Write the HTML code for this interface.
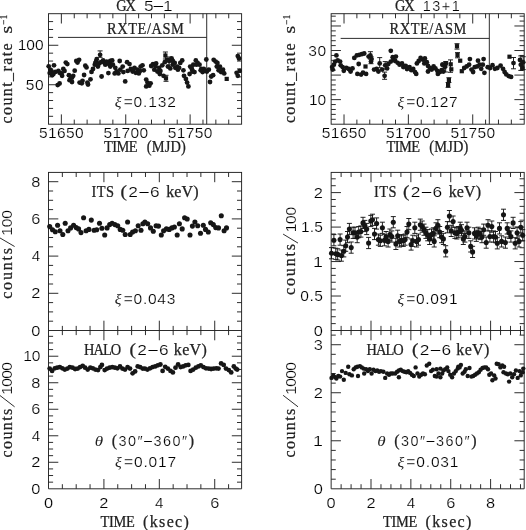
<!DOCTYPE html>
<html><head><meta charset="utf-8"><title>fig</title>
<style>
html,body{margin:0;padding:0;background:#fff;}
svg{display:block;filter:grayscale(1);}

text{fill:#222;}
.f{font-family:"Liberation Serif",serif;stroke:#222;stroke-width:0.25px;}
.m{font-family:"Liberation Sans",sans-serif;}
.d{font-family:"Liberation Sans",sans-serif;stroke:#fff;stroke-width:0.2px;paint-order:fill stroke;fill:#000;}
.d2{font-family:"Liberation Sans",sans-serif;font-size:14.4px;stroke:#fff;stroke-width:0.2px;paint-order:fill stroke;fill:#000;}
.i{font-family:"Liberation Serif",serif;font-style:italic;font-size:15px;stroke:none;}
.l{font-family:"Liberation Serif",serif;stroke:#222;stroke-width:0.25px;}
</style></head><body>
<svg width="526" height="530" viewBox="0 0 526 530">
<rect width="526" height="530" fill="#fff"/>
<g stroke="#222" stroke-width="0.95" fill="none" stroke-linecap="butt">
<rect x="48.5" y="13.7" width="193.10" height="110.50" fill="none"/>
<rect x="331.15" y="13.7" width="193.05" height="110.50" fill="none"/>
<rect x="48.5" y="172.4" width="193.10" height="158.10" fill="none"/>
<rect x="331.15" y="172.4" width="193.05" height="158.10" fill="none"/>
<path d="M48.5 330.5V488.8H241.6V330.5"/>
<path d="M331.15 330.5V488.8H524.2V330.5"/>
<path d="M61.37 124.20L61.37 114.40"/>
<path d="M61.37 13.70L61.37 23.50"/>
<path d="M74.25 124.20L74.25 119.60"/>
<path d="M74.25 13.70L74.25 18.30"/>
<path d="M87.12 124.20L87.12 119.60"/>
<path d="M87.12 13.70L87.12 18.30"/>
<path d="M99.99 124.20L99.99 119.60"/>
<path d="M99.99 13.70L99.99 18.30"/>
<path d="M112.87 124.20L112.87 119.60"/>
<path d="M112.87 13.70L112.87 18.30"/>
<path d="M125.74 124.20L125.74 114.40"/>
<path d="M125.74 13.70L125.74 23.50"/>
<path d="M138.61 124.20L138.61 119.60"/>
<path d="M138.61 13.70L138.61 18.30"/>
<path d="M151.49 124.20L151.49 119.60"/>
<path d="M151.49 13.70L151.49 18.30"/>
<path d="M164.36 124.20L164.36 119.60"/>
<path d="M164.36 13.70L164.36 18.30"/>
<path d="M177.23 124.20L177.23 119.60"/>
<path d="M177.23 13.70L177.23 18.30"/>
<path d="M190.11 124.20L190.11 114.40"/>
<path d="M190.11 13.70L190.11 23.50"/>
<path d="M202.98 124.20L202.98 119.60"/>
<path d="M202.98 13.70L202.98 18.30"/>
<path d="M215.85 124.20L215.85 119.60"/>
<path d="M215.85 13.70L215.85 18.30"/>
<path d="M228.73 124.20L228.73 119.60"/>
<path d="M228.73 13.70L228.73 18.30"/>
<path d="M48.50 116.31L53.10 116.31"/>
<path d="M241.60 116.31L237.00 116.31"/>
<path d="M48.50 108.41L53.10 108.41"/>
<path d="M241.60 108.41L237.00 108.41"/>
<path d="M48.50 100.52L53.10 100.52"/>
<path d="M241.60 100.52L237.00 100.52"/>
<path d="M48.50 92.63L53.10 92.63"/>
<path d="M241.60 92.63L237.00 92.63"/>
<path d="M48.50 84.74L58.30 84.74"/>
<path d="M241.60 84.74L231.80 84.74"/>
<path d="M48.50 76.84L53.10 76.84"/>
<path d="M241.60 76.84L237.00 76.84"/>
<path d="M48.50 68.95L53.10 68.95"/>
<path d="M241.60 68.95L237.00 68.95"/>
<path d="M48.50 61.06L53.10 61.06"/>
<path d="M241.60 61.06L237.00 61.06"/>
<path d="M48.50 53.16L53.10 53.16"/>
<path d="M241.60 53.16L237.00 53.16"/>
<path d="M48.50 45.27L58.30 45.27"/>
<path d="M241.60 45.27L231.80 45.27"/>
<path d="M48.50 37.38L53.10 37.38"/>
<path d="M241.60 37.38L237.00 37.38"/>
<path d="M48.50 29.49L53.10 29.49"/>
<path d="M241.60 29.49L237.00 29.49"/>
<path d="M48.50 21.59L53.10 21.59"/>
<path d="M241.60 21.59L237.00 21.59"/>
<path d="M344.02 124.20L344.02 114.40"/>
<path d="M344.02 13.70L344.02 23.50"/>
<path d="M356.89 124.20L356.89 119.60"/>
<path d="M356.89 13.70L356.89 18.30"/>
<path d="M369.76 124.20L369.76 119.60"/>
<path d="M369.76 13.70L369.76 18.30"/>
<path d="M382.63 124.20L382.63 119.60"/>
<path d="M382.63 13.70L382.63 18.30"/>
<path d="M395.50 124.20L395.50 119.60"/>
<path d="M395.50 13.70L395.50 18.30"/>
<path d="M408.37 124.20L408.37 114.40"/>
<path d="M408.37 13.70L408.37 23.50"/>
<path d="M421.24 124.20L421.24 119.60"/>
<path d="M421.24 13.70L421.24 18.30"/>
<path d="M434.11 124.20L434.11 119.60"/>
<path d="M434.11 13.70L434.11 18.30"/>
<path d="M446.98 124.20L446.98 119.60"/>
<path d="M446.98 13.70L446.98 18.30"/>
<path d="M459.85 124.20L459.85 119.60"/>
<path d="M459.85 13.70L459.85 18.30"/>
<path d="M472.72 124.20L472.72 114.40"/>
<path d="M472.72 13.70L472.72 23.50"/>
<path d="M485.59 124.20L485.59 119.60"/>
<path d="M485.59 13.70L485.59 18.30"/>
<path d="M498.46 124.20L498.46 119.60"/>
<path d="M498.46 13.70L498.46 18.30"/>
<path d="M511.33 124.20L511.33 119.60"/>
<path d="M511.33 13.70L511.33 18.30"/>
<path d="M331.15 119.29L335.75 119.29"/>
<path d="M524.20 119.29L519.60 119.29"/>
<path d="M331.15 114.38L335.75 114.38"/>
<path d="M524.20 114.38L519.60 114.38"/>
<path d="M331.15 109.47L335.75 109.47"/>
<path d="M524.20 109.47L519.60 109.47"/>
<path d="M331.15 104.56L335.75 104.56"/>
<path d="M524.20 104.56L519.60 104.56"/>
<path d="M331.15 99.64L340.95 99.64"/>
<path d="M524.20 99.64L514.40 99.64"/>
<path d="M331.15 94.73L335.75 94.73"/>
<path d="M524.20 94.73L519.60 94.73"/>
<path d="M331.15 89.82L335.75 89.82"/>
<path d="M524.20 89.82L519.60 89.82"/>
<path d="M331.15 84.91L335.75 84.91"/>
<path d="M524.20 84.91L519.60 84.91"/>
<path d="M331.15 80.00L335.75 80.00"/>
<path d="M524.20 80.00L519.60 80.00"/>
<path d="M331.15 75.09L340.95 75.09"/>
<path d="M524.20 75.09L514.40 75.09"/>
<path d="M331.15 70.18L335.75 70.18"/>
<path d="M524.20 70.18L519.60 70.18"/>
<path d="M331.15 65.27L335.75 65.27"/>
<path d="M524.20 65.27L519.60 65.27"/>
<path d="M331.15 60.36L335.75 60.36"/>
<path d="M524.20 60.36L519.60 60.36"/>
<path d="M331.15 55.44L335.75 55.44"/>
<path d="M524.20 55.44L519.60 55.44"/>
<path d="M331.15 50.53L340.95 50.53"/>
<path d="M524.20 50.53L514.40 50.53"/>
<path d="M331.15 45.62L335.75 45.62"/>
<path d="M524.20 45.62L519.60 45.62"/>
<path d="M331.15 40.71L335.75 40.71"/>
<path d="M524.20 40.71L519.60 40.71"/>
<path d="M331.15 35.80L335.75 35.80"/>
<path d="M524.20 35.80L519.60 35.80"/>
<path d="M331.15 30.89L335.75 30.89"/>
<path d="M524.20 30.89L519.60 30.89"/>
<path d="M331.15 25.98L340.95 25.98"/>
<path d="M524.20 25.98L514.40 25.98"/>
<path d="M331.15 21.07L335.75 21.07"/>
<path d="M524.20 21.07L519.60 21.07"/>
<path d="M331.15 16.16L335.75 16.16"/>
<path d="M524.20 16.16L519.60 16.16"/>
<path d="M62.35 330.50L62.35 325.90"/>
<path d="M62.35 172.40L62.35 177.00"/>
<path d="M76.20 330.50L76.20 325.90"/>
<path d="M76.20 172.40L76.20 177.00"/>
<path d="M90.06 330.50L90.06 325.90"/>
<path d="M90.06 172.40L90.06 177.00"/>
<path d="M103.91 330.50L103.91 320.70"/>
<path d="M103.91 172.40L103.91 182.20"/>
<path d="M117.76 330.50L117.76 325.90"/>
<path d="M117.76 172.40L117.76 177.00"/>
<path d="M131.61 330.50L131.61 325.90"/>
<path d="M131.61 172.40L131.61 177.00"/>
<path d="M145.47 330.50L145.47 325.90"/>
<path d="M145.47 172.40L145.47 177.00"/>
<path d="M159.32 330.50L159.32 320.70"/>
<path d="M159.32 172.40L159.32 182.20"/>
<path d="M173.17 330.50L173.17 325.90"/>
<path d="M173.17 172.40L173.17 177.00"/>
<path d="M187.02 330.50L187.02 325.90"/>
<path d="M187.02 172.40L187.02 177.00"/>
<path d="M200.87 330.50L200.87 325.90"/>
<path d="M200.87 172.40L200.87 177.00"/>
<path d="M214.73 330.50L214.73 320.70"/>
<path d="M214.73 172.40L214.73 182.20"/>
<path d="M228.58 330.50L228.58 325.90"/>
<path d="M228.58 172.40L228.58 177.00"/>
<path d="M48.50 321.20L53.10 321.20"/>
<path d="M241.60 321.20L237.00 321.20"/>
<path d="M48.50 311.90L53.10 311.90"/>
<path d="M241.60 311.90L237.00 311.90"/>
<path d="M48.50 302.60L53.10 302.60"/>
<path d="M241.60 302.60L237.00 302.60"/>
<path d="M48.50 293.30L58.30 293.30"/>
<path d="M241.60 293.30L231.80 293.30"/>
<path d="M48.50 284.00L53.10 284.00"/>
<path d="M241.60 284.00L237.00 284.00"/>
<path d="M48.50 274.70L53.10 274.70"/>
<path d="M241.60 274.70L237.00 274.70"/>
<path d="M48.50 265.40L53.10 265.40"/>
<path d="M241.60 265.40L237.00 265.40"/>
<path d="M48.50 256.10L58.30 256.10"/>
<path d="M241.60 256.10L231.80 256.10"/>
<path d="M48.50 246.80L53.10 246.80"/>
<path d="M241.60 246.80L237.00 246.80"/>
<path d="M48.50 237.50L53.10 237.50"/>
<path d="M241.60 237.50L237.00 237.50"/>
<path d="M48.50 228.20L53.10 228.20"/>
<path d="M241.60 228.20L237.00 228.20"/>
<path d="M48.50 218.90L58.30 218.90"/>
<path d="M241.60 218.90L231.80 218.90"/>
<path d="M48.50 209.60L53.10 209.60"/>
<path d="M241.60 209.60L237.00 209.60"/>
<path d="M48.50 200.30L53.10 200.30"/>
<path d="M241.60 200.30L237.00 200.30"/>
<path d="M48.50 191.00L53.10 191.00"/>
<path d="M241.60 191.00L237.00 191.00"/>
<path d="M48.50 181.70L58.30 181.70"/>
<path d="M241.60 181.70L231.80 181.70"/>
<path d="M341.12 330.50L341.12 325.90"/>
<path d="M341.12 172.40L341.12 177.00"/>
<path d="M351.08 330.50L351.08 325.90"/>
<path d="M351.08 172.40L351.08 177.00"/>
<path d="M361.05 330.50L361.05 325.90"/>
<path d="M361.05 172.40L361.05 177.00"/>
<path d="M371.01 330.50L371.01 320.70"/>
<path d="M371.01 172.40L371.01 182.20"/>
<path d="M380.98 330.50L380.98 325.90"/>
<path d="M380.98 172.40L380.98 177.00"/>
<path d="M390.94 330.50L390.94 325.90"/>
<path d="M390.94 172.40L390.94 177.00"/>
<path d="M400.91 330.50L400.91 325.90"/>
<path d="M400.91 172.40L400.91 177.00"/>
<path d="M410.87 330.50L410.87 320.70"/>
<path d="M410.87 172.40L410.87 182.20"/>
<path d="M420.84 330.50L420.84 325.90"/>
<path d="M420.84 172.40L420.84 177.00"/>
<path d="M430.80 330.50L430.80 325.90"/>
<path d="M430.80 172.40L430.80 177.00"/>
<path d="M440.77 330.50L440.77 325.90"/>
<path d="M440.77 172.40L440.77 177.00"/>
<path d="M450.73 330.50L450.73 320.70"/>
<path d="M450.73 172.40L450.73 182.20"/>
<path d="M460.70 330.50L460.70 325.90"/>
<path d="M460.70 172.40L460.70 177.00"/>
<path d="M470.67 330.50L470.67 325.90"/>
<path d="M470.67 172.40L470.67 177.00"/>
<path d="M480.63 330.50L480.63 325.90"/>
<path d="M480.63 172.40L480.63 177.00"/>
<path d="M490.60 330.50L490.60 320.70"/>
<path d="M490.60 172.40L490.60 182.20"/>
<path d="M500.56 330.50L500.56 325.90"/>
<path d="M500.56 172.40L500.56 177.00"/>
<path d="M510.53 330.50L510.53 325.90"/>
<path d="M510.53 172.40L510.53 177.00"/>
<path d="M520.49 330.50L520.49 325.90"/>
<path d="M520.49 172.40L520.49 177.00"/>
<path d="M331.15 323.61L335.75 323.61"/>
<path d="M524.20 323.61L519.60 323.61"/>
<path d="M331.15 316.71L335.75 316.71"/>
<path d="M524.20 316.71L519.60 316.71"/>
<path d="M331.15 309.82L335.75 309.82"/>
<path d="M524.20 309.82L519.60 309.82"/>
<path d="M331.15 302.92L335.75 302.92"/>
<path d="M524.20 302.92L519.60 302.92"/>
<path d="M331.15 296.03L340.95 296.03"/>
<path d="M524.20 296.03L514.40 296.03"/>
<path d="M331.15 289.13L335.75 289.13"/>
<path d="M524.20 289.13L519.60 289.13"/>
<path d="M331.15 282.24L335.75 282.24"/>
<path d="M524.20 282.24L519.60 282.24"/>
<path d="M331.15 275.34L335.75 275.34"/>
<path d="M524.20 275.34L519.60 275.34"/>
<path d="M331.15 268.45L335.75 268.45"/>
<path d="M524.20 268.45L519.60 268.45"/>
<path d="M331.15 261.55L340.95 261.55"/>
<path d="M524.20 261.55L514.40 261.55"/>
<path d="M331.15 254.66L335.75 254.66"/>
<path d="M524.20 254.66L519.60 254.66"/>
<path d="M331.15 247.76L335.75 247.76"/>
<path d="M524.20 247.76L519.60 247.76"/>
<path d="M331.15 240.87L335.75 240.87"/>
<path d="M524.20 240.87L519.60 240.87"/>
<path d="M331.15 233.97L335.75 233.97"/>
<path d="M524.20 233.97L519.60 233.97"/>
<path d="M331.15 227.08L340.95 227.08"/>
<path d="M524.20 227.08L514.40 227.08"/>
<path d="M331.15 220.18L335.75 220.18"/>
<path d="M524.20 220.18L519.60 220.18"/>
<path d="M331.15 213.29L335.75 213.29"/>
<path d="M524.20 213.29L519.60 213.29"/>
<path d="M331.15 206.39L335.75 206.39"/>
<path d="M524.20 206.39L519.60 206.39"/>
<path d="M331.15 199.50L335.75 199.50"/>
<path d="M524.20 199.50L519.60 199.50"/>
<path d="M331.15 192.60L340.95 192.60"/>
<path d="M524.20 192.60L514.40 192.60"/>
<path d="M331.15 185.71L335.75 185.71"/>
<path d="M524.20 185.71L519.60 185.71"/>
<path d="M331.15 178.81L335.75 178.81"/>
<path d="M524.20 178.81L519.60 178.81"/>
<path d="M62.35 488.80L62.35 484.20"/>
<path d="M62.35 330.50L62.35 335.10"/>
<path d="M76.20 488.80L76.20 484.20"/>
<path d="M76.20 330.50L76.20 335.10"/>
<path d="M90.06 488.80L90.06 484.20"/>
<path d="M90.06 330.50L90.06 335.10"/>
<path d="M103.91 488.80L103.91 479.00"/>
<path d="M103.91 330.50L103.91 340.30"/>
<path d="M117.76 488.80L117.76 484.20"/>
<path d="M117.76 330.50L117.76 335.10"/>
<path d="M131.61 488.80L131.61 484.20"/>
<path d="M131.61 330.50L131.61 335.10"/>
<path d="M145.47 488.80L145.47 484.20"/>
<path d="M145.47 330.50L145.47 335.10"/>
<path d="M159.32 488.80L159.32 479.00"/>
<path d="M159.32 330.50L159.32 340.30"/>
<path d="M173.17 488.80L173.17 484.20"/>
<path d="M173.17 330.50L173.17 335.10"/>
<path d="M187.02 488.80L187.02 484.20"/>
<path d="M187.02 330.50L187.02 335.10"/>
<path d="M200.87 488.80L200.87 484.20"/>
<path d="M200.87 330.50L200.87 335.10"/>
<path d="M214.73 488.80L214.73 479.00"/>
<path d="M214.73 330.50L214.73 340.30"/>
<path d="M228.58 488.80L228.58 484.20"/>
<path d="M228.58 330.50L228.58 335.10"/>
<path d="M48.50 482.17L53.10 482.17"/>
<path d="M241.60 482.17L237.00 482.17"/>
<path d="M48.50 475.54L53.10 475.54"/>
<path d="M241.60 475.54L237.00 475.54"/>
<path d="M48.50 468.91L53.10 468.91"/>
<path d="M241.60 468.91L237.00 468.91"/>
<path d="M48.50 462.28L58.30 462.28"/>
<path d="M241.60 462.28L231.80 462.28"/>
<path d="M48.50 455.66L53.10 455.66"/>
<path d="M241.60 455.66L237.00 455.66"/>
<path d="M48.50 449.03L53.10 449.03"/>
<path d="M241.60 449.03L237.00 449.03"/>
<path d="M48.50 442.40L53.10 442.40"/>
<path d="M241.60 442.40L237.00 442.40"/>
<path d="M48.50 435.77L58.30 435.77"/>
<path d="M241.60 435.77L231.80 435.77"/>
<path d="M48.50 429.14L53.10 429.14"/>
<path d="M241.60 429.14L237.00 429.14"/>
<path d="M48.50 422.51L53.10 422.51"/>
<path d="M241.60 422.51L237.00 422.51"/>
<path d="M48.50 415.88L53.10 415.88"/>
<path d="M241.60 415.88L237.00 415.88"/>
<path d="M48.50 409.25L58.30 409.25"/>
<path d="M241.60 409.25L231.80 409.25"/>
<path d="M48.50 402.62L53.10 402.62"/>
<path d="M241.60 402.62L237.00 402.62"/>
<path d="M48.50 395.99L53.10 395.99"/>
<path d="M241.60 395.99L237.00 395.99"/>
<path d="M48.50 389.37L53.10 389.37"/>
<path d="M241.60 389.37L237.00 389.37"/>
<path d="M48.50 382.74L58.30 382.74"/>
<path d="M241.60 382.74L231.80 382.74"/>
<path d="M48.50 376.11L53.10 376.11"/>
<path d="M241.60 376.11L237.00 376.11"/>
<path d="M48.50 369.48L53.10 369.48"/>
<path d="M241.60 369.48L237.00 369.48"/>
<path d="M48.50 362.85L53.10 362.85"/>
<path d="M241.60 362.85L237.00 362.85"/>
<path d="M48.50 356.22L58.30 356.22"/>
<path d="M241.60 356.22L231.80 356.22"/>
<path d="M48.50 349.59L53.10 349.59"/>
<path d="M241.60 349.59L237.00 349.59"/>
<path d="M48.50 342.96L53.10 342.96"/>
<path d="M241.60 342.96L237.00 342.96"/>
<path d="M48.50 336.33L53.10 336.33"/>
<path d="M241.60 336.33L237.00 336.33"/>
<path d="M341.12 488.80L341.12 484.20"/>
<path d="M341.12 330.50L341.12 335.10"/>
<path d="M351.08 488.80L351.08 484.20"/>
<path d="M351.08 330.50L351.08 335.10"/>
<path d="M361.05 488.80L361.05 484.20"/>
<path d="M361.05 330.50L361.05 335.10"/>
<path d="M371.01 488.80L371.01 479.00"/>
<path d="M371.01 330.50L371.01 340.30"/>
<path d="M380.98 488.80L380.98 484.20"/>
<path d="M380.98 330.50L380.98 335.10"/>
<path d="M390.94 488.80L390.94 484.20"/>
<path d="M390.94 330.50L390.94 335.10"/>
<path d="M400.91 488.80L400.91 484.20"/>
<path d="M400.91 330.50L400.91 335.10"/>
<path d="M410.87 488.80L410.87 479.00"/>
<path d="M410.87 330.50L410.87 340.30"/>
<path d="M420.84 488.80L420.84 484.20"/>
<path d="M420.84 330.50L420.84 335.10"/>
<path d="M430.80 488.80L430.80 484.20"/>
<path d="M430.80 330.50L430.80 335.10"/>
<path d="M440.77 488.80L440.77 484.20"/>
<path d="M440.77 330.50L440.77 335.10"/>
<path d="M450.73 488.80L450.73 479.00"/>
<path d="M450.73 330.50L450.73 340.30"/>
<path d="M460.70 488.80L460.70 484.20"/>
<path d="M460.70 330.50L460.70 335.10"/>
<path d="M470.67 488.80L470.67 484.20"/>
<path d="M470.67 330.50L470.67 335.10"/>
<path d="M480.63 488.80L480.63 484.20"/>
<path d="M480.63 330.50L480.63 335.10"/>
<path d="M490.60 488.80L490.60 479.00"/>
<path d="M490.60 330.50L490.60 340.30"/>
<path d="M500.56 488.80L500.56 484.20"/>
<path d="M500.56 330.50L500.56 335.10"/>
<path d="M510.53 488.80L510.53 484.20"/>
<path d="M510.53 330.50L510.53 335.10"/>
<path d="M520.49 488.80L520.49 484.20"/>
<path d="M520.49 330.50L520.49 335.10"/>
<path d="M331.15 479.19L335.75 479.19"/>
<path d="M524.20 479.19L519.60 479.19"/>
<path d="M331.15 469.59L335.75 469.59"/>
<path d="M524.20 469.59L519.60 469.59"/>
<path d="M331.15 459.98L335.75 459.98"/>
<path d="M524.20 459.98L519.60 459.98"/>
<path d="M331.15 450.38L335.75 450.38"/>
<path d="M524.20 450.38L519.60 450.38"/>
<path d="M331.15 440.77L340.95 440.77"/>
<path d="M524.20 440.77L514.40 440.77"/>
<path d="M331.15 431.17L335.75 431.17"/>
<path d="M524.20 431.17L519.60 431.17"/>
<path d="M331.15 421.56L335.75 421.56"/>
<path d="M524.20 421.56L519.60 421.56"/>
<path d="M331.15 411.96L335.75 411.96"/>
<path d="M524.20 411.96L519.60 411.96"/>
<path d="M331.15 402.35L335.75 402.35"/>
<path d="M524.20 402.35L519.60 402.35"/>
<path d="M331.15 392.74L340.95 392.74"/>
<path d="M524.20 392.74L514.40 392.74"/>
<path d="M331.15 383.14L335.75 383.14"/>
<path d="M524.20 383.14L519.60 383.14"/>
<path d="M331.15 373.53L335.75 373.53"/>
<path d="M524.20 373.53L519.60 373.53"/>
<path d="M331.15 363.93L335.75 363.93"/>
<path d="M524.20 363.93L519.60 363.93"/>
<path d="M331.15 354.32L335.75 354.32"/>
<path d="M524.20 354.32L519.60 354.32"/>
<path d="M331.15 344.72L340.95 344.72"/>
<path d="M524.20 344.72L514.40 344.72"/>
<path d="M331.15 335.11L335.75 335.11"/>
<path d="M524.20 335.11L519.60 335.11"/>
<path d="M58.00 37.40L206.71 37.40"/>
<path d="M206.71 13.70L206.71 124.20"/>
<path d="M340.65 38.40L489.32 38.40"/>
<path d="M489.32 13.70L489.32 124.20"/>
</g>
<g>
<g fill="#181616">
<circle cx="48.7" cy="66.3" r="2.4"/>
<circle cx="54.0" cy="65.3" r="2.4"/>
<circle cx="50.3" cy="69.7" r="2.4"/>
<circle cx="49.7" cy="73.1" r="2.4"/>
<circle cx="52.2" cy="75.2" r="2.4"/>
<circle cx="55.3" cy="71.9" r="2.4"/>
<circle cx="58.4" cy="70.9" r="2.4"/>
<circle cx="63.3" cy="69.0" r="2.4"/>
<circle cx="61.5" cy="73.4" r="2.4"/>
<circle cx="62.1" cy="75.8" r="2.4"/>
<circle cx="65.8" cy="62.6" r="2.4"/>
<circle cx="67.3" cy="64.1" r="2.4"/>
<circle cx="57.7" cy="85.1" r="2.4"/>
<circle cx="59.6" cy="83.5" r="2.4"/>
<circle cx="68.9" cy="75.2" r="2.4"/>
<circle cx="73.2" cy="75.8" r="2.4"/>
<circle cx="72.0" cy="77.7" r="2.4"/>
<circle cx="69.5" cy="80.2" r="2.4"/>
<circle cx="72.0" cy="82.0" r="2.4"/>
<circle cx="74.7" cy="70.7" r="2.4"/>
<circle cx="76.3" cy="61.0" r="2.4"/>
<circle cx="79.1" cy="59.8" r="2.4"/>
<circle cx="77.5" cy="62.5" r="2.4"/>
<circle cx="79.6" cy="82.6" r="2.4"/>
<circle cx="82.5" cy="80.8" r="2.4"/>
<circle cx="81.8" cy="83.3" r="2.4"/>
<circle cx="84.1" cy="75.0" r="2.4"/>
<circle cx="85.3" cy="65.7" r="2.4"/>
<circle cx="86.5" cy="67.4" r="2.4"/>
<circle cx="88.0" cy="84.5" r="2.4"/>
<circle cx="87.4" cy="82.6" r="2.4"/>
<circle cx="90.5" cy="79.3" r="2.4"/>
<circle cx="91.5" cy="71.9" r="2.4"/>
<circle cx="93.0" cy="69.0" r="2.4"/>
<circle cx="94.8" cy="64.7" r="2.4"/>
<circle cx="96.7" cy="59.2" r="2.4"/>
<circle cx="96.1" cy="61.6" r="2.4"/>
<circle cx="97.9" cy="66.6" r="2.4"/>
<circle cx="100.1" cy="54.8" r="2.4"/>
<circle cx="99.2" cy="63.5" r="2.4"/>
<circle cx="101.6" cy="76.5" r="2.4"/>
<circle cx="103.1" cy="60.4" r="2.4"/>
<circle cx="104.7" cy="62.9" r="2.4"/>
<circle cx="106.6" cy="61.6" r="2.4"/>
<circle cx="108.4" cy="73.1" r="2.4"/>
<circle cx="109.0" cy="64.1" r="2.4"/>
<circle cx="110.3" cy="61.0" r="2.4"/>
<circle cx="110.3" cy="66.6" r="2.4"/>
<circle cx="112.2" cy="60.4" r="2.4"/>
<circle cx="112.9" cy="64.7" r="2.4"/>
<circle cx="115.3" cy="67.8" r="2.4"/>
<circle cx="116.6" cy="71.5" r="2.4"/>
<circle cx="118.4" cy="73.4" r="2.4"/>
<circle cx="119.7" cy="61.0" r="2.4"/>
<circle cx="120.3" cy="69.7" r="2.4"/>
<circle cx="122.7" cy="66.6" r="2.4"/>
<circle cx="123.4" cy="72.1" r="2.4"/>
<circle cx="125.2" cy="81.4" r="2.4"/>
<circle cx="127.1" cy="62.2" r="2.4"/>
<circle cx="127.7" cy="70.9" r="2.4"/>
<circle cx="129.5" cy="64.1" r="2.4"/>
<circle cx="130.8" cy="69.0" r="2.4"/>
<circle cx="132.6" cy="71.5" r="2.4"/>
<circle cx="134.5" cy="67.8" r="2.4"/>
<circle cx="135.7" cy="72.8" r="2.4"/>
<circle cx="137.6" cy="69.7" r="2.4"/>
<circle cx="138.8" cy="73.4" r="2.4"/>
<circle cx="140.7" cy="66.6" r="2.4"/>
<circle cx="142.5" cy="65.3" r="2.4"/>
<circle cx="143.8" cy="70.3" r="2.4"/>
<circle cx="146.2" cy="79.6" r="2.4"/>
<circle cx="147.5" cy="82.6" r="2.4"/>
<circle cx="146.2" cy="86.4" r="2.4"/>
<circle cx="150.6" cy="83.3" r="2.4"/>
<circle cx="149.3" cy="85.7" r="2.4"/>
<circle cx="151.2" cy="66.0" r="2.4"/>
<circle cx="153.0" cy="64.1" r="2.4"/>
<circle cx="154.3" cy="69.7" r="2.4"/>
<circle cx="156.1" cy="63.5" r="2.4"/>
<circle cx="157.4" cy="71.5" r="2.4"/>
<circle cx="159.8" cy="74.0" r="2.4"/>
<circle cx="159.2" cy="67.8" r="2.4"/>
<circle cx="162.3" cy="65.3" r="2.4"/>
<circle cx="163.5" cy="75.8" r="2.4"/>
<circle cx="164.8" cy="62.2" r="2.4"/>
<circle cx="167.9" cy="66.6" r="2.4"/>
<circle cx="169.1" cy="61.0" r="2.4"/>
<circle cx="170.3" cy="68.4" r="2.4"/>
<circle cx="171.6" cy="58.5" r="2.4"/>
<circle cx="172.8" cy="64.7" r="2.4"/>
<circle cx="174.7" cy="62.9" r="2.4"/>
<circle cx="175.3" cy="67.8" r="2.4"/>
<circle cx="177.2" cy="66.6" r="2.4"/>
<circle cx="177.9" cy="69.7" r="2.4"/>
<circle cx="180.3" cy="62.9" r="2.4"/>
<circle cx="182.2" cy="60.4" r="2.4"/>
<circle cx="183.4" cy="70.3" r="2.4"/>
<circle cx="184.0" cy="75.8" r="2.4"/>
<circle cx="185.9" cy="78.9" r="2.4"/>
<circle cx="187.1" cy="82.6" r="2.4"/>
<circle cx="188.4" cy="86.4" r="2.4"/>
<circle cx="189.6" cy="74.0" r="2.4"/>
<circle cx="190.2" cy="66.6" r="2.4"/>
<circle cx="192.1" cy="69.7" r="2.4"/>
<circle cx="193.3" cy="64.7" r="2.4"/>
<circle cx="194.5" cy="72.1" r="2.4"/>
<circle cx="195.8" cy="60.4" r="2.4"/>
<circle cx="197.6" cy="62.9" r="2.4"/>
<circle cx="199.5" cy="64.7" r="2.4"/>
<circle cx="200.7" cy="70.3" r="2.4"/>
<circle cx="202.6" cy="72.1" r="2.4"/>
<circle cx="203.8" cy="69.0" r="2.4"/>
<circle cx="206.3" cy="59.5" r="2.4"/>
<circle cx="206.9" cy="71.5" r="2.4"/>
<circle cx="208.8" cy="69.7" r="2.4"/>
<circle cx="210.0" cy="82.0" r="2.4"/>
<circle cx="211.2" cy="76.5" r="2.4"/>
<circle cx="213.1" cy="75.2" r="2.4"/>
<circle cx="213.7" cy="59.8" r="2.4"/>
<circle cx="215.6" cy="61.6" r="2.4"/>
<circle cx="217.4" cy="62.9" r="2.4"/>
<circle cx="218.6" cy="70.3" r="2.4"/>
<circle cx="219.9" cy="66.6" r="2.4"/>
<circle cx="221.1" cy="72.1" r="2.4"/>
<circle cx="223.0" cy="69.7" r="2.4"/>
<circle cx="224.2" cy="73.4" r="2.4"/>
<circle cx="237.8" cy="56.1" r="2.4"/>
<circle cx="239.0" cy="58.5" r="2.4"/>
<circle cx="236.6" cy="72.8" r="2.4"/>
<circle cx="239.7" cy="70.9" r="2.4"/>
<circle cx="237.8" cy="75.8" r="2.4"/>
<circle cx="114.7" cy="73.4" r="2.4"/>
<circle cx="133.2" cy="69.7" r="2.4"/>
<circle cx="140.0" cy="70.9" r="2.4"/>
<circle cx="155.5" cy="66.6" r="2.4"/>
<circle cx="160.4" cy="70.9" r="2.4"/>
<circle cx="167.2" cy="59.8" r="2.4"/>
<circle cx="172.8" cy="61.0" r="2.4"/>
<circle cx="51.6" cy="71.5" r="2.4"/>
<circle cx="53.4" cy="74.0" r="2.4"/>
<circle cx="59.6" cy="72.8" r="2.4"/>
<circle cx="64.5" cy="70.9" r="2.4"/>
<circle cx="70.7" cy="77.1" r="2.4"/>
<circle cx="95.4" cy="62.9" r="2.4"/>
<circle cx="97.3" cy="64.1" r="2.4"/>
<circle cx="101.0" cy="62.2" r="2.4"/>
<circle cx="105.3" cy="64.7" r="2.4"/>
<circle cx="107.8" cy="62.9" r="2.4"/>
<circle cx="179.1" cy="67.8" r="2.4"/>
<circle cx="191.5" cy="67.8" r="2.4"/>
<circle cx="192.7" cy="71.5" r="2.4"/>
<circle cx="196.4" cy="64.7" r="2.4"/>
<circle cx="201.3" cy="69.0" r="2.4"/>
<circle cx="205.0" cy="70.9" r="2.4"/>
<circle cx="216.8" cy="66.6" r="2.4"/>
<circle cx="219.3" cy="69.0" r="2.4"/>
<circle cx="222.4" cy="71.5" r="2.4"/>
<rect x="163.3" y="53.4" width="4.2" height="4.2"/>
<rect x="163.9" y="76.2" width="4.2" height="4.2"/>
<rect x="224.6" y="76.8" width="4.2" height="4.2"/>
<path d="M100.1 50.9V57.3M97.6 50.9H102.6M97.6 57.3H102.6M165.4 52.0V59.0M162.9 52.0H167.9M162.9 59.0H167.9M166.0 75.3V81.3M163.5 75.3H168.5M163.5 81.3H168.5M169.1 57.0V65.0M166.6 57.0H171.6M166.6 65.0H171.6" fill="none" stroke="#151515" stroke-width="0.95"/>
<circle cx="336.4" cy="55.4" r="2.4"/>
<circle cx="332.1" cy="67.1" r="2.4"/>
<circle cx="333.9" cy="64.7" r="2.4"/>
<circle cx="335.2" cy="61.6" r="2.4"/>
<circle cx="337.7" cy="60.3" r="2.4"/>
<circle cx="340.1" cy="61.6" r="2.4"/>
<circle cx="332.7" cy="69.6" r="2.4"/>
<circle cx="340.7" cy="65.3" r="2.4"/>
<circle cx="342.6" cy="67.1" r="2.4"/>
<circle cx="343.8" cy="70.8" r="2.4"/>
<circle cx="346.3" cy="67.8" r="2.4"/>
<circle cx="348.8" cy="69.0" r="2.4"/>
<circle cx="350.6" cy="71.5" r="2.4"/>
<circle cx="352.5" cy="68.4" r="2.4"/>
<circle cx="354.3" cy="57.9" r="2.4"/>
<circle cx="356.8" cy="55.4" r="2.4"/>
<circle cx="359.3" cy="54.8" r="2.4"/>
<circle cx="361.8" cy="54.2" r="2.4"/>
<circle cx="364.2" cy="53.5" r="2.4"/>
<circle cx="358.7" cy="64.0" r="2.4"/>
<circle cx="357.4" cy="73.9" r="2.4"/>
<circle cx="361.1" cy="74.6" r="2.4"/>
<circle cx="363.0" cy="72.7" r="2.4"/>
<circle cx="366.1" cy="73.9" r="2.4"/>
<circle cx="368.6" cy="56.6" r="2.4"/>
<circle cx="370.4" cy="55.4" r="2.4"/>
<circle cx="371.6" cy="59.1" r="2.4"/>
<circle cx="371.0" cy="61.6" r="2.4"/>
<circle cx="374.1" cy="69.6" r="2.4"/>
<circle cx="376.6" cy="69.0" r="2.4"/>
<circle cx="378.4" cy="71.5" r="2.4"/>
<circle cx="379.7" cy="63.4" r="2.4"/>
<circle cx="382.2" cy="69.6" r="2.4"/>
<circle cx="384.6" cy="75.8" r="2.4"/>
<circle cx="385.2" cy="65.3" r="2.4"/>
<circle cx="387.1" cy="68.4" r="2.4"/>
<circle cx="388.3" cy="64.0" r="2.4"/>
<circle cx="390.8" cy="50.8" r="2.4"/>
<circle cx="390.8" cy="61.6" r="2.4"/>
<circle cx="393.3" cy="59.1" r="2.4"/>
<circle cx="392.7" cy="57.2" r="2.4"/>
<circle cx="395.9" cy="56.6" r="2.4"/>
<circle cx="395.2" cy="61.0" r="2.4"/>
<circle cx="397.7" cy="62.8" r="2.4"/>
<circle cx="399.6" cy="64.7" r="2.4"/>
<circle cx="402.0" cy="63.4" r="2.4"/>
<circle cx="403.3" cy="67.1" r="2.4"/>
<circle cx="405.7" cy="65.9" r="2.4"/>
<circle cx="407.0" cy="69.0" r="2.4"/>
<circle cx="409.5" cy="67.1" r="2.4"/>
<circle cx="411.3" cy="70.2" r="2.4"/>
<circle cx="413.2" cy="69.0" r="2.4"/>
<circle cx="415.0" cy="72.1" r="2.4"/>
<circle cx="416.2" cy="73.9" r="2.4"/>
<circle cx="416.9" cy="63.4" r="2.4"/>
<circle cx="418.7" cy="61.0" r="2.4"/>
<circle cx="420.6" cy="57.9" r="2.4"/>
<circle cx="423.0" cy="59.7" r="2.4"/>
<circle cx="424.9" cy="58.5" r="2.4"/>
<circle cx="424.3" cy="63.4" r="2.4"/>
<circle cx="426.8" cy="62.2" r="2.4"/>
<circle cx="428.0" cy="65.9" r="2.4"/>
<circle cx="429.8" cy="67.8" r="2.4"/>
<circle cx="428.0" cy="71.5" r="2.4"/>
<circle cx="431.7" cy="69.6" r="2.4"/>
<circle cx="433.6" cy="66.5" r="2.4"/>
<circle cx="435.4" cy="68.4" r="2.4"/>
<circle cx="437.3" cy="70.8" r="2.4"/>
<circle cx="437.9" cy="73.9" r="2.4"/>
<circle cx="439.7" cy="72.1" r="2.4"/>
<circle cx="441.6" cy="70.2" r="2.4"/>
<circle cx="443.4" cy="71.5" r="2.4"/>
<circle cx="442.8" cy="64.7" r="2.4"/>
<circle cx="444.7" cy="67.1" r="2.4"/>
<circle cx="445.9" cy="63.4" r="2.4"/>
<circle cx="442.4" cy="64.7" r="2.4"/>
<circle cx="441.6" cy="71.2" r="2.4"/>
<circle cx="464.2" cy="68.0" r="2.4"/>
<circle cx="466.7" cy="66.4" r="2.4"/>
<circle cx="469.9" cy="59.1" r="2.4"/>
<circle cx="469.1" cy="64.7" r="2.4"/>
<circle cx="471.5" cy="69.6" r="2.4"/>
<circle cx="473.1" cy="72.0" r="2.4"/>
<circle cx="474.7" cy="67.2" r="2.4"/>
<circle cx="478.0" cy="60.7" r="2.4"/>
<circle cx="477.2" cy="66.4" r="2.4"/>
<circle cx="479.6" cy="64.7" r="2.4"/>
<circle cx="481.2" cy="68.8" r="2.4"/>
<circle cx="483.6" cy="59.1" r="2.4"/>
<circle cx="484.4" cy="72.8" r="2.4"/>
<circle cx="482.8" cy="64.7" r="2.4"/>
<circle cx="487.7" cy="67.2" r="2.4"/>
<circle cx="490.1" cy="68.0" r="2.4"/>
<circle cx="492.5" cy="65.2" r="2.4"/>
<circle cx="494.9" cy="68.8" r="2.4"/>
<circle cx="497.4" cy="68.0" r="2.4"/>
<circle cx="500.6" cy="65.6" r="2.4"/>
<circle cx="503.0" cy="68.8" r="2.4"/>
<circle cx="504.6" cy="72.0" r="2.4"/>
<circle cx="506.3" cy="74.4" r="2.4"/>
<circle cx="508.7" cy="76.1" r="2.4"/>
<circle cx="511.1" cy="76.9" r="2.4"/>
<circle cx="513.5" cy="63.1" r="2.4"/>
<circle cx="520.0" cy="59.9" r="2.4"/>
<circle cx="520.8" cy="64.7" r="2.4"/>
<circle cx="522.4" cy="68.0" r="2.4"/>
<circle cx="523.2" cy="62.3" r="2.4"/>
<rect x="363.4" y="64.4" width="4.2" height="4.2"/>
<rect x="443.2" y="63.8" width="4.2" height="4.2"/>
<rect x="448.6" y="62.2" width="4.2" height="4.2"/>
<rect x="449.2" y="67.2" width="4.2" height="4.2"/>
<rect x="454.9" y="44.1" width="4.2" height="4.2"/>
<rect x="455.4" y="52.9" width="4.2" height="4.2"/>
<rect x="446.8" y="78.0" width="4.2" height="4.2"/>
<rect x="446.0" y="82.8" width="4.2" height="4.2"/>
<rect x="458.1" y="58.6" width="4.2" height="4.2"/>
<rect x="459.7" y="69.1" width="4.2" height="4.2"/>
<rect x="507.4" y="54.6" width="4.2" height="4.2"/>
<path d="M370.4 51.7V59.1M367.9 51.7H372.9M367.9 59.1H372.9M371.0 56.6V63.7M368.5 56.6H373.5M368.5 63.7H373.5M379.7 57.6V67.8M377.2 57.6H382.2M377.2 67.8H382.2M384.6 72.1V79.3M382.1 72.1H387.1M382.1 79.3H387.1M385.2 61.6V69.0M382.7 61.6H387.7M382.7 69.0H387.7M457.0 43.7V49.1M454.5 43.7H459.5M454.5 49.1H459.5M457.5 52.6V57.8M455.0 52.6H460.0M455.0 57.8H460.0M448.9 77.7V82.5M446.4 77.7H451.4M446.4 82.5H451.4M448.1 82.5V87.4M445.6 82.5H450.6M445.6 87.4H450.6M513.5 57.5V68.8M511.0 57.5H516.0M511.0 68.8H516.0M520.8 55.9V70.4M518.3 55.9H523.3M518.3 70.4H523.3M523.2 56.7V69.6M520.7 56.7H525.7M520.7 69.6H525.7M445.7 61.5V72.0M443.2 61.5H448.2M443.2 72.0H448.2M450.5 59.9V72.3M448.0 59.9H453.0M448.0 72.3H453.0" fill="none" stroke="#151515" stroke-width="0.95"/>
<circle cx="49.7" cy="226.6" r="2.55"/>
<circle cx="52.5" cy="229.8" r="2.55"/>
<circle cx="55.3" cy="231.7" r="2.55"/>
<circle cx="57.6" cy="225.2" r="2.55"/>
<circle cx="60.0" cy="230.7" r="2.55"/>
<circle cx="62.8" cy="234.5" r="2.55"/>
<circle cx="65.2" cy="223.3" r="2.55"/>
<circle cx="68.0" cy="230.7" r="2.55"/>
<circle cx="70.6" cy="227.9" r="2.55"/>
<circle cx="73.6" cy="225.2" r="2.55"/>
<circle cx="76.2" cy="227.6" r="2.55"/>
<circle cx="78.6" cy="228.9" r="2.55"/>
<circle cx="81.0" cy="232.6" r="2.55"/>
<circle cx="83.6" cy="217.7" r="2.55"/>
<circle cx="86.1" cy="230.7" r="2.55"/>
<circle cx="88.9" cy="229.4" r="2.55"/>
<circle cx="91.3" cy="220.1" r="2.55"/>
<circle cx="94.1" cy="230.2" r="2.55"/>
<circle cx="96.7" cy="229.8" r="2.55"/>
<circle cx="99.5" cy="223.3" r="2.55"/>
<circle cx="101.9" cy="228.3" r="2.55"/>
<circle cx="104.7" cy="235.0" r="2.55"/>
<circle cx="107.1" cy="227.9" r="2.55"/>
<circle cx="109.7" cy="224.6" r="2.55"/>
<circle cx="112.1" cy="223.3" r="2.55"/>
<circle cx="114.9" cy="224.6" r="2.55"/>
<circle cx="117.7" cy="225.7" r="2.55"/>
<circle cx="120.2" cy="229.4" r="2.55"/>
<circle cx="122.8" cy="230.2" r="2.55"/>
<circle cx="125.2" cy="234.5" r="2.55"/>
<circle cx="127.6" cy="222.0" r="2.55"/>
<circle cx="130.2" cy="234.5" r="2.55"/>
<circle cx="132.6" cy="232.0" r="2.55"/>
<circle cx="135.4" cy="230.7" r="2.55"/>
<circle cx="138.2" cy="225.7" r="2.55"/>
<circle cx="141.0" cy="230.2" r="2.55"/>
<circle cx="142.9" cy="223.8" r="2.55"/>
<circle cx="144.9" cy="222.0" r="2.55"/>
<circle cx="147.7" cy="223.8" r="2.55"/>
<circle cx="150.5" cy="227.9" r="2.55"/>
<circle cx="153.3" cy="231.3" r="2.55"/>
<circle cx="156.1" cy="225.7" r="2.55"/>
<circle cx="158.5" cy="226.1" r="2.55"/>
<circle cx="161.3" cy="235.0" r="2.55"/>
<circle cx="163.6" cy="230.7" r="2.55"/>
<circle cx="166.4" cy="228.9" r="2.55"/>
<circle cx="169.2" cy="229.4" r="2.55"/>
<circle cx="171.9" cy="227.9" r="2.55"/>
<circle cx="174.4" cy="227.0" r="2.55"/>
<circle cx="177.2" cy="235.0" r="2.55"/>
<circle cx="179.4" cy="223.8" r="2.55"/>
<circle cx="182.2" cy="228.9" r="2.55"/>
<circle cx="184.6" cy="217.7" r="2.55"/>
<circle cx="187.2" cy="219.0" r="2.55"/>
<circle cx="190.0" cy="235.0" r="2.55"/>
<circle cx="192.4" cy="226.1" r="2.55"/>
<circle cx="194.9" cy="222.0" r="2.55"/>
<circle cx="197.7" cy="225.7" r="2.55"/>
<circle cx="200.5" cy="233.2" r="2.55"/>
<circle cx="203.3" cy="225.2" r="2.55"/>
<circle cx="205.5" cy="229.4" r="2.55"/>
<circle cx="208.3" cy="232.0" r="2.55"/>
<circle cx="210.7" cy="222.7" r="2.55"/>
<circle cx="213.3" cy="224.6" r="2.55"/>
<circle cx="215.7" cy="227.6" r="2.55"/>
<circle cx="218.5" cy="227.9" r="2.55"/>
<circle cx="221.3" cy="215.8" r="2.55"/>
<circle cx="224.1" cy="230.7" r="2.55"/>
<circle cx="226.5" cy="227.9" r="2.55"/>
<circle cx="331.5" cy="253.2" r="2.55"/>
<circle cx="333.9" cy="240.2" r="2.55"/>
<circle cx="335.8" cy="253.8" r="2.55"/>
<circle cx="337.7" cy="254.4" r="2.55"/>
<circle cx="340.1" cy="239.6" r="2.55"/>
<circle cx="341.4" cy="255.6" r="2.55"/>
<circle cx="343.8" cy="251.3" r="2.55"/>
<circle cx="345.7" cy="245.7" r="2.55"/>
<circle cx="347.5" cy="237.1" r="2.55"/>
<circle cx="349.4" cy="229.0" r="2.55"/>
<circle cx="351.2" cy="247.6" r="2.55"/>
<circle cx="353.1" cy="232.8" r="2.55"/>
<circle cx="355.0" cy="232.8" r="2.55"/>
<circle cx="357.2" cy="237.1" r="2.55"/>
<circle cx="358.7" cy="232.1" r="2.55"/>
<circle cx="360.9" cy="231.5" r="2.55"/>
<circle cx="363.0" cy="222.9" r="2.55"/>
<circle cx="364.8" cy="226.0" r="2.55"/>
<circle cx="366.7" cy="229.0" r="2.55"/>
<circle cx="368.6" cy="243.0" r="2.55"/>
<circle cx="370.8" cy="221.0" r="2.55"/>
<circle cx="372.5" cy="219.8" r="2.55"/>
<circle cx="374.5" cy="234.0" r="2.55"/>
<circle cx="376.6" cy="223.5" r="2.55"/>
<circle cx="378.4" cy="239.6" r="2.55"/>
<circle cx="380.3" cy="240.8" r="2.55"/>
<circle cx="382.4" cy="227.8" r="2.55"/>
<circle cx="384.4" cy="240.2" r="2.55"/>
<circle cx="386.1" cy="237.1" r="2.55"/>
<circle cx="388.1" cy="241.4" r="2.55"/>
<circle cx="389.9" cy="234.6" r="2.55"/>
<circle cx="391.8" cy="236.5" r="2.55"/>
<circle cx="393.3" cy="222.2" r="2.55"/>
<circle cx="395.9" cy="243.9" r="2.55"/>
<circle cx="397.7" cy="235.8" r="2.55"/>
<circle cx="399.6" cy="241.4" r="2.55"/>
<circle cx="401.4" cy="240.2" r="2.55"/>
<circle cx="403.3" cy="240.8" r="2.55"/>
<circle cx="405.1" cy="239.6" r="2.55"/>
<circle cx="407.0" cy="232.1" r="2.55"/>
<circle cx="408.8" cy="224.1" r="2.55"/>
<circle cx="411.1" cy="244.5" r="2.55"/>
<circle cx="412.8" cy="240.8" r="2.55"/>
<circle cx="414.8" cy="227.8" r="2.55"/>
<circle cx="416.6" cy="241.4" r="2.55"/>
<circle cx="418.5" cy="239.6" r="2.55"/>
<circle cx="420.3" cy="224.7" r="2.55"/>
<circle cx="422.2" cy="226.6" r="2.55"/>
<circle cx="424.0" cy="229.7" r="2.55"/>
<circle cx="425.9" cy="232.8" r="2.55"/>
<circle cx="427.7" cy="235.2" r="2.55"/>
<circle cx="429.6" cy="238.9" r="2.55"/>
<circle cx="431.5" cy="234.6" r="2.55"/>
<circle cx="433.3" cy="233.4" r="2.55"/>
<circle cx="434.2" cy="241.4" r="2.55"/>
<circle cx="436.0" cy="228.4" r="2.55"/>
<circle cx="437.9" cy="225.3" r="2.55"/>
<circle cx="439.7" cy="232.1" r="2.55"/>
<circle cx="441.6" cy="237.1" r="2.55"/>
<circle cx="443.4" cy="238.9" r="2.55"/>
<circle cx="445.7" cy="251.3" r="2.55"/>
<circle cx="447.4" cy="227.2" r="2.55"/>
<circle cx="449.4" cy="216.1" r="2.55"/>
<circle cx="451.2" cy="230.9" r="2.55"/>
<circle cx="453.1" cy="221.6" r="2.55"/>
<circle cx="454.9" cy="232.8" r="2.55"/>
<circle cx="456.8" cy="233.4" r="2.55"/>
<circle cx="458.3" cy="232.1" r="2.55"/>
<circle cx="460.2" cy="227.8" r="2.55"/>
<circle cx="461.5" cy="230.3" r="2.55"/>
<circle cx="463.3" cy="238.9" r="2.55"/>
<circle cx="464.9" cy="236.5" r="2.55"/>
<circle cx="467.0" cy="227.8" r="2.55"/>
<circle cx="468.9" cy="232.8" r="2.55"/>
<circle cx="470.7" cy="246.4" r="2.55"/>
<circle cx="472.6" cy="251.9" r="2.55"/>
<circle cx="474.5" cy="233.4" r="2.55"/>
<circle cx="476.3" cy="235.8" r="2.55"/>
<circle cx="478.2" cy="232.8" r="2.55"/>
<circle cx="480.0" cy="234.0" r="2.55"/>
<circle cx="481.9" cy="237.1" r="2.55"/>
<circle cx="483.7" cy="229.7" r="2.55"/>
<circle cx="486.2" cy="242.6" r="2.55"/>
<circle cx="488.0" cy="225.3" r="2.55"/>
<circle cx="489.9" cy="236.5" r="2.55"/>
<circle cx="491.8" cy="226.6" r="2.55"/>
<circle cx="493.6" cy="236.5" r="2.55"/>
<circle cx="495.5" cy="237.1" r="2.55"/>
<circle cx="497.3" cy="243.3" r="2.55"/>
<circle cx="499.5" cy="228.4" r="2.55"/>
<circle cx="501.6" cy="241.4" r="2.55"/>
<circle cx="503.5" cy="214.8" r="2.55"/>
<circle cx="505.4" cy="242.6" r="2.55"/>
<circle cx="507.2" cy="228.4" r="2.55"/>
<circle cx="509.1" cy="232.8" r="2.55"/>
<circle cx="510.9" cy="236.5" r="2.55"/>
<circle cx="513.1" cy="222.9" r="2.55"/>
<circle cx="515.2" cy="243.3" r="2.55"/>
<circle cx="517.1" cy="232.8" r="2.55"/>
<circle cx="519.0" cy="241.4" r="2.55"/>
<circle cx="520.8" cy="227.2" r="2.55"/>
<circle cx="522.7" cy="235.2" r="2.55"/>
<path d="M331.5 247.6V258.8M329.0 247.6H334.0M329.0 258.8H334.0M333.9 234.6V245.8M331.4 234.6H336.4M331.4 245.8H336.4M335.8 248.2V259.4M333.3 248.2H338.3M333.3 259.4H338.3M337.7 248.8V260.0M335.2 248.8H340.2M335.2 260.0H340.2M340.1 234.0V245.2M337.6 234.0H342.6M337.6 245.2H342.6M341.4 250.0V261.2M338.9 250.0H343.9M338.9 261.2H343.9M343.8 245.7V256.9M341.3 245.7H346.3M341.3 256.9H346.3M345.7 240.1V251.3M343.2 240.1H348.2M343.2 251.3H348.2M347.5 231.5V242.7M345.0 231.5H350.0M345.0 242.7H350.0M349.4 223.4V234.6M346.9 223.4H351.9M346.9 234.6H351.9M351.2 242.0V253.2M348.7 242.0H353.7M348.7 253.2H353.7M353.1 227.2V238.4M350.6 227.2H355.6M350.6 238.4H355.6M355.0 227.2V238.4M352.5 227.2H357.5M352.5 238.4H357.5M357.2 231.5V242.7M354.7 231.5H359.7M354.7 242.7H359.7M358.7 226.5V237.7M356.2 226.5H361.2M356.2 237.7H361.2M360.9 225.9V237.1M358.4 225.9H363.4M358.4 237.1H363.4M363.0 217.3V228.5M360.5 217.3H365.5M360.5 228.5H365.5M364.8 220.4V231.6M362.3 220.4H367.3M362.3 231.6H367.3M366.7 223.4V234.6M364.2 223.4H369.2M364.2 234.6H369.2M368.6 237.4V248.6M366.1 237.4H371.1M366.1 248.6H371.1M370.8 215.4V226.6M368.3 215.4H373.3M368.3 226.6H373.3M372.5 214.2V225.4M370.0 214.2H375.0M370.0 225.4H375.0M374.5 228.4V239.6M372.0 228.4H377.0M372.0 239.6H377.0M376.6 217.9V229.1M374.1 217.9H379.1M374.1 229.1H379.1M378.4 234.0V245.2M375.9 234.0H380.9M375.9 245.2H380.9M380.3 235.2V246.4M377.8 235.2H382.8M377.8 246.4H382.8M382.4 222.2V233.4M379.9 222.2H384.9M379.9 233.4H384.9M384.4 234.6V245.8M381.9 234.6H386.9M381.9 245.8H386.9M386.1 231.5V242.7M383.6 231.5H388.6M383.6 242.7H388.6M388.1 235.8V247.0M385.6 235.8H390.6M385.6 247.0H390.6M389.9 229.0V240.2M387.4 229.0H392.4M387.4 240.2H392.4M391.8 230.9V242.1M389.3 230.9H394.3M389.3 242.1H394.3M393.3 216.6V227.8M390.8 216.6H395.8M390.8 227.8H395.8M395.9 238.3V249.5M393.4 238.3H398.4M393.4 249.5H398.4M397.7 230.2V241.4M395.2 230.2H400.2M395.2 241.4H400.2M399.6 235.8V247.0M397.1 235.8H402.1M397.1 247.0H402.1M401.4 234.6V245.8M398.9 234.6H403.9M398.9 245.8H403.9M403.3 235.2V246.4M400.8 235.2H405.8M400.8 246.4H405.8M405.1 234.0V245.2M402.6 234.0H407.6M402.6 245.2H407.6M407.0 226.5V237.7M404.5 226.5H409.5M404.5 237.7H409.5M408.8 218.5V229.7M406.3 218.5H411.3M406.3 229.7H411.3M411.1 238.9V250.1M408.6 238.9H413.6M408.6 250.1H413.6M412.8 235.2V246.4M410.3 235.2H415.3M410.3 246.4H415.3M414.8 222.2V233.4M412.3 222.2H417.3M412.3 233.4H417.3M416.6 235.8V247.0M414.1 235.8H419.1M414.1 247.0H419.1M418.5 234.0V245.2M416.0 234.0H421.0M416.0 245.2H421.0M420.3 219.1V230.3M417.8 219.1H422.8M417.8 230.3H422.8M422.2 221.0V232.2M419.7 221.0H424.7M419.7 232.2H424.7M424.0 224.1V235.3M421.5 224.1H426.5M421.5 235.3H426.5M425.9 227.2V238.4M423.4 227.2H428.4M423.4 238.4H428.4M427.7 229.6V240.8M425.2 229.6H430.2M425.2 240.8H430.2M429.6 233.3V244.5M427.1 233.3H432.1M427.1 244.5H432.1M431.5 229.0V240.2M429.0 229.0H434.0M429.0 240.2H434.0M433.3 227.8V239.0M430.8 227.8H435.8M430.8 239.0H435.8M434.2 235.8V247.0M431.7 235.8H436.7M431.7 247.0H436.7M436.0 222.8V234.0M433.5 222.8H438.5M433.5 234.0H438.5M437.9 219.7V230.9M435.4 219.7H440.4M435.4 230.9H440.4M439.7 226.5V237.7M437.2 226.5H442.2M437.2 237.7H442.2M441.6 231.5V242.7M439.1 231.5H444.1M439.1 242.7H444.1M443.4 233.3V244.5M440.9 233.3H445.9M440.9 244.5H445.9M445.7 245.7V256.9M443.2 245.7H448.2M443.2 256.9H448.2M447.4 221.6V232.8M444.9 221.6H449.9M444.9 232.8H449.9M449.4 210.5V221.7M446.9 210.5H451.9M446.9 221.7H451.9M451.2 225.3V236.5M448.7 225.3H453.7M448.7 236.5H453.7M453.1 216.0V227.2M450.6 216.0H455.6M450.6 227.2H455.6M454.9 227.2V238.4M452.4 227.2H457.4M452.4 238.4H457.4M456.8 227.8V239.0M454.3 227.8H459.3M454.3 239.0H459.3M458.3 226.5V237.7M455.8 226.5H460.8M455.8 237.7H460.8M460.2 222.2V233.4M457.7 222.2H462.7M457.7 233.4H462.7M461.5 224.7V235.9M459.0 224.7H464.0M459.0 235.9H464.0M463.3 233.3V244.5M460.8 233.3H465.8M460.8 244.5H465.8M464.9 230.9V242.1M462.4 230.9H467.4M462.4 242.1H467.4M467.0 222.2V233.4M464.5 222.2H469.5M464.5 233.4H469.5M468.9 227.2V238.4M466.4 227.2H471.4M466.4 238.4H471.4M470.7 240.8V252.0M468.2 240.8H473.2M468.2 252.0H473.2M472.6 246.3V257.5M470.1 246.3H475.1M470.1 257.5H475.1M474.5 227.8V239.0M472.0 227.8H477.0M472.0 239.0H477.0M476.3 230.2V241.4M473.8 230.2H478.8M473.8 241.4H478.8M478.2 227.2V238.4M475.7 227.2H480.7M475.7 238.4H480.7M480.0 228.4V239.6M477.5 228.4H482.5M477.5 239.6H482.5M481.9 231.5V242.7M479.4 231.5H484.4M479.4 242.7H484.4M483.7 224.1V235.3M481.2 224.1H486.2M481.2 235.3H486.2M486.2 237.0V248.2M483.7 237.0H488.7M483.7 248.2H488.7M488.0 219.7V230.9M485.5 219.7H490.5M485.5 230.9H490.5M489.9 230.9V242.1M487.4 230.9H492.4M487.4 242.1H492.4M491.8 221.0V232.2M489.3 221.0H494.3M489.3 232.2H494.3M493.6 230.9V242.1M491.1 230.9H496.1M491.1 242.1H496.1M495.5 231.5V242.7M493.0 231.5H498.0M493.0 242.7H498.0M497.3 237.7V248.9M494.8 237.7H499.8M494.8 248.9H499.8M499.5 222.8V234.0M497.0 222.8H502.0M497.0 234.0H502.0M501.6 235.8V247.0M499.1 235.8H504.1M499.1 247.0H504.1M503.5 209.2V220.4M501.0 209.2H506.0M501.0 220.4H506.0M505.4 237.0V248.2M502.9 237.0H507.9M502.9 248.2H507.9M507.2 222.8V234.0M504.7 222.8H509.7M504.7 234.0H509.7M509.1 227.2V238.4M506.6 227.2H511.6M506.6 238.4H511.6M510.9 230.9V242.1M508.4 230.9H513.4M508.4 242.1H513.4M513.1 217.3V228.5M510.6 217.3H515.6M510.6 228.5H515.6M515.2 237.7V248.9M512.7 237.7H517.7M512.7 248.9H517.7M517.1 227.2V238.4M514.6 227.2H519.6M514.6 238.4H519.6M519.0 235.8V247.0M516.5 235.8H521.5M516.5 247.0H521.5M520.8 221.6V232.8M518.3 221.6H523.3M518.3 232.8H523.3M522.7 229.6V240.8M520.2 229.6H525.2M520.2 240.8H525.2" fill="none" stroke="#151515" stroke-width="0.95"/>
<circle cx="49.7" cy="368.6" r="2.4"/>
<circle cx="52.1" cy="370.9" r="2.4"/>
<circle cx="54.8" cy="368.3" r="2.4"/>
<circle cx="57.2" cy="367.7" r="2.4"/>
<circle cx="59.8" cy="367.1" r="2.4"/>
<circle cx="62.4" cy="368.3" r="2.4"/>
<circle cx="64.8" cy="369.6" r="2.4"/>
<circle cx="67.4" cy="368.6" r="2.4"/>
<circle cx="69.8" cy="367.1" r="2.4"/>
<circle cx="72.5" cy="367.7" r="2.4"/>
<circle cx="75.1" cy="369.0" r="2.4"/>
<circle cx="77.7" cy="368.6" r="2.4"/>
<circle cx="80.1" cy="367.1" r="2.4"/>
<circle cx="82.7" cy="365.8" r="2.4"/>
<circle cx="85.1" cy="367.7" r="2.4"/>
<circle cx="87.7" cy="369.6" r="2.4"/>
<circle cx="90.3" cy="367.7" r="2.4"/>
<circle cx="92.8" cy="368.3" r="2.4"/>
<circle cx="95.4" cy="369.6" r="2.4"/>
<circle cx="98.0" cy="370.1" r="2.4"/>
<circle cx="100.4" cy="367.1" r="2.4"/>
<circle cx="101.9" cy="364.9" r="2.4"/>
<circle cx="104.7" cy="370.1" r="2.4"/>
<circle cx="107.1" cy="368.6" r="2.4"/>
<circle cx="109.7" cy="367.7" r="2.4"/>
<circle cx="112.3" cy="367.1" r="2.4"/>
<circle cx="114.9" cy="367.7" r="2.4"/>
<circle cx="117.4" cy="368.3" r="2.4"/>
<circle cx="120.0" cy="366.4" r="2.4"/>
<circle cx="122.4" cy="368.6" r="2.4"/>
<circle cx="125.0" cy="369.6" r="2.4"/>
<circle cx="127.6" cy="367.1" r="2.4"/>
<circle cx="130.0" cy="368.6" r="2.4"/>
<circle cx="132.6" cy="373.3" r="2.4"/>
<circle cx="135.1" cy="371.4" r="2.4"/>
<circle cx="137.7" cy="366.4" r="2.4"/>
<circle cx="140.1" cy="367.1" r="2.4"/>
<circle cx="142.7" cy="368.6" r="2.4"/>
<circle cx="144.9" cy="368.6" r="2.4"/>
<circle cx="147.4" cy="369.6" r="2.4"/>
<circle cx="150.0" cy="368.3" r="2.4"/>
<circle cx="152.6" cy="367.1" r="2.4"/>
<circle cx="155.2" cy="366.4" r="2.4"/>
<circle cx="157.8" cy="365.3" r="2.4"/>
<circle cx="160.4" cy="364.5" r="2.4"/>
<circle cx="162.6" cy="370.9" r="2.4"/>
<circle cx="165.2" cy="366.8" r="2.4"/>
<circle cx="167.8" cy="368.6" r="2.4"/>
<circle cx="170.5" cy="370.9" r="2.4"/>
<circle cx="172.9" cy="372.4" r="2.4"/>
<circle cx="175.5" cy="367.7" r="2.4"/>
<circle cx="178.1" cy="364.5" r="2.4"/>
<circle cx="180.7" cy="367.1" r="2.4"/>
<circle cx="183.1" cy="366.4" r="2.4"/>
<circle cx="185.7" cy="365.3" r="2.4"/>
<circle cx="188.3" cy="364.9" r="2.4"/>
<circle cx="190.6" cy="370.9" r="2.4"/>
<circle cx="193.2" cy="369.6" r="2.4"/>
<circle cx="195.8" cy="367.7" r="2.4"/>
<circle cx="198.4" cy="366.4" r="2.4"/>
<circle cx="200.8" cy="365.3" r="2.4"/>
<circle cx="203.4" cy="367.1" r="2.4"/>
<circle cx="206.0" cy="368.3" r="2.4"/>
<circle cx="208.7" cy="368.6" r="2.4"/>
<circle cx="211.1" cy="369.0" r="2.4"/>
<circle cx="213.7" cy="368.6" r="2.4"/>
<circle cx="216.3" cy="368.3" r="2.4"/>
<circle cx="218.5" cy="368.6" r="2.4"/>
<circle cx="221.1" cy="363.4" r="2.4"/>
<circle cx="223.7" cy="364.9" r="2.4"/>
<circle cx="226.0" cy="368.6" r="2.4"/>
<circle cx="228.8" cy="370.1" r="2.4"/>
<circle cx="231.2" cy="372.4" r="2.4"/>
<circle cx="233.8" cy="366.4" r="2.4"/>
<circle cx="235.7" cy="368.6" r="2.4"/>
<circle cx="237.2" cy="369.6" r="2.4"/>
<circle cx="331.5" cy="377.9" r="2.2"/>
<circle cx="333.3" cy="375.4" r="2.2"/>
<circle cx="335.2" cy="377.2" r="2.2"/>
<circle cx="336.4" cy="378.5" r="2.2"/>
<circle cx="338.3" cy="376.0" r="2.2"/>
<circle cx="340.1" cy="376.6" r="2.2"/>
<circle cx="342.0" cy="371.1" r="2.2"/>
<circle cx="343.8" cy="379.7" r="2.2"/>
<circle cx="345.7" cy="372.9" r="2.2"/>
<circle cx="348.2" cy="366.7" r="2.2"/>
<circle cx="349.4" cy="374.2" r="2.2"/>
<circle cx="351.9" cy="375.4" r="2.2"/>
<circle cx="353.7" cy="369.2" r="2.2"/>
<circle cx="355.6" cy="367.4" r="2.2"/>
<circle cx="358.0" cy="376.0" r="2.2"/>
<circle cx="357.4" cy="366.7" r="2.2"/>
<circle cx="359.9" cy="366.1" r="2.2"/>
<circle cx="361.8" cy="367.4" r="2.2"/>
<circle cx="364.2" cy="373.5" r="2.2"/>
<circle cx="363.6" cy="368.6" r="2.2"/>
<circle cx="366.1" cy="369.2" r="2.2"/>
<circle cx="367.9" cy="371.1" r="2.2"/>
<circle cx="369.8" cy="369.2" r="2.2"/>
<circle cx="371.6" cy="373.5" r="2.2"/>
<circle cx="373.5" cy="369.8" r="2.2"/>
<circle cx="375.4" cy="371.1" r="2.2"/>
<circle cx="377.2" cy="370.5" r="2.2"/>
<circle cx="379.1" cy="371.7" r="2.2"/>
<circle cx="380.9" cy="371.1" r="2.2"/>
<circle cx="383.4" cy="371.7" r="2.2"/>
<circle cx="385.2" cy="377.9" r="2.2"/>
<circle cx="387.1" cy="373.5" r="2.2"/>
<circle cx="389.0" cy="374.8" r="2.2"/>
<circle cx="390.8" cy="373.5" r="2.2"/>
<circle cx="392.7" cy="373.5" r="2.2"/>
<circle cx="395.2" cy="373.5" r="2.2"/>
<circle cx="397.1" cy="371.7" r="2.2"/>
<circle cx="398.9" cy="377.2" r="2.2"/>
<circle cx="398.9" cy="370.5" r="2.2"/>
<circle cx="400.8" cy="369.8" r="2.2"/>
<circle cx="402.7" cy="371.1" r="2.2"/>
<circle cx="404.5" cy="371.7" r="2.2"/>
<circle cx="406.4" cy="372.3" r="2.2"/>
<circle cx="408.2" cy="371.1" r="2.2"/>
<circle cx="410.1" cy="372.9" r="2.2"/>
<circle cx="411.9" cy="374.8" r="2.2"/>
<circle cx="413.8" cy="376.0" r="2.2"/>
<circle cx="415.6" cy="367.4" r="2.2"/>
<circle cx="417.5" cy="373.5" r="2.2"/>
<circle cx="419.3" cy="376.6" r="2.2"/>
<circle cx="421.2" cy="374.8" r="2.2"/>
<circle cx="423.0" cy="373.5" r="2.2"/>
<circle cx="424.9" cy="374.2" r="2.2"/>
<circle cx="426.8" cy="365.5" r="2.2"/>
<circle cx="429.2" cy="363.7" r="2.2"/>
<circle cx="431.1" cy="371.1" r="2.2"/>
<circle cx="432.9" cy="369.8" r="2.2"/>
<circle cx="434.8" cy="376.0" r="2.2"/>
<circle cx="436.6" cy="369.2" r="2.2"/>
<circle cx="436.6" cy="376.6" r="2.2"/>
<circle cx="438.5" cy="373.5" r="2.2"/>
<circle cx="440.4" cy="377.2" r="2.2"/>
<circle cx="440.4" cy="368.6" r="2.2"/>
<circle cx="442.2" cy="373.5" r="2.2"/>
<circle cx="443.4" cy="370.5" r="2.2"/>
<circle cx="445.3" cy="369.2" r="2.2"/>
<circle cx="447.2" cy="367.4" r="2.2"/>
<circle cx="448.4" cy="371.1" r="2.2"/>
<circle cx="450.2" cy="374.8" r="2.2"/>
<circle cx="452.1" cy="377.2" r="2.2"/>
<circle cx="454.0" cy="373.5" r="2.2"/>
<circle cx="455.8" cy="371.1" r="2.2"/>
<circle cx="457.7" cy="368.6" r="2.2"/>
<circle cx="458.3" cy="366.7" r="2.2"/>
<circle cx="459.6" cy="367.4" r="2.2"/>
<circle cx="460.9" cy="364.9" r="2.2"/>
<circle cx="462.7" cy="373.5" r="2.2"/>
<circle cx="464.6" cy="371.7" r="2.2"/>
<circle cx="465.8" cy="369.2" r="2.2"/>
<circle cx="467.7" cy="376.0" r="2.2"/>
<circle cx="469.5" cy="368.0" r="2.2"/>
<circle cx="471.4" cy="376.6" r="2.2"/>
<circle cx="473.2" cy="376.0" r="2.2"/>
<circle cx="475.1" cy="374.8" r="2.2"/>
<circle cx="476.9" cy="373.5" r="2.2"/>
<circle cx="478.8" cy="372.3" r="2.2"/>
<circle cx="480.6" cy="369.8" r="2.2"/>
<circle cx="482.5" cy="368.0" r="2.2"/>
<circle cx="484.3" cy="367.4" r="2.2"/>
<circle cx="486.2" cy="367.4" r="2.2"/>
<circle cx="488.0" cy="369.2" r="2.2"/>
<circle cx="489.3" cy="374.8" r="2.2"/>
<circle cx="491.1" cy="373.5" r="2.2"/>
<circle cx="492.4" cy="380.3" r="2.2"/>
<circle cx="494.2" cy="375.4" r="2.2"/>
<circle cx="495.5" cy="378.5" r="2.2"/>
<circle cx="496.7" cy="363.7" r="2.2"/>
<circle cx="498.6" cy="364.3" r="2.2"/>
<circle cx="500.4" cy="367.4" r="2.2"/>
<circle cx="502.3" cy="365.5" r="2.2"/>
<circle cx="503.5" cy="372.3" r="2.2"/>
<circle cx="504.1" cy="366.7" r="2.2"/>
<circle cx="506.0" cy="373.5" r="2.2"/>
<circle cx="507.8" cy="374.2" r="2.2"/>
<circle cx="509.1" cy="381.6" r="2.2"/>
<circle cx="510.3" cy="373.5" r="2.2"/>
<circle cx="512.2" cy="377.2" r="2.2"/>
<circle cx="514.0" cy="374.2" r="2.2"/>
<circle cx="515.9" cy="370.5" r="2.2"/>
<circle cx="517.7" cy="377.9" r="2.2"/>
<circle cx="519.6" cy="371.1" r="2.2"/>
<circle cx="520.8" cy="375.4" r="2.2"/>
<circle cx="522.7" cy="372.3" r="2.2"/>
<circle cx="523.3" cy="368.6" r="2.2"/>
</g>
</g>
<g opacity="0.999">
<text class="f" font-size="16" transform="translate(116.25 10.60) scale(0.9000 1)" letter-spacing="-1.389">GX</text>
<text class="f" font-size="16" transform="translate(144.00 10.60) scale(1.2000 1)" letter-spacing="-0.083"><tspan class="d2">5<tspan dy="-1.1">&#8211;</tspan><tspan dy="1.1">&#8203;</tspan>1</tspan></text>
<text class="f" font-size="16" transform="translate(395.05 10.60) scale(0.9000 1)" letter-spacing="-1.389">GX</text>
<text class="f" font-size="16" transform="translate(422.65 10.60) scale(1.0000 1)" letter-spacing="1.533"><tspan class="d2">13+1</tspan></text>
<text class="f" font-size="16" transform="translate(107.08 34.10) scale(0.9000 1)" letter-spacing="0.615">RXTE/ASM</text>
<text class="f" font-size="16" transform="translate(104.08 151.60) scale(0.9000 1)" letter-spacing="-0.676">TIME</text>
<text class="f" font-size="16" transform="translate(146.85 151.60) scale(0.9000 1)" letter-spacing="0.153">(MJD)</text>
<text class="f" font-size="16" transform="translate(100.58 526.50) scale(0.9000 1)" letter-spacing="-0.380">TIME</text>
<text class="f" font-size="16" transform="translate(143.10 526.50) scale(1.0000 1)" letter-spacing="1.340">(ksec)</text>
<text class="f" font-size="16" transform="translate(91.45 196.70) scale(0.9000 1)" letter-spacing="0.569">ITS</text>
<text class="f" font-size="16" transform="translate(120.60 196.70) scale(1.2000 1)" letter-spacing="1.083">(<tspan class="d2">2<tspan dy="-1.1">&#8211;</tspan><tspan dy="1.1">&#8203;</tspan>6</tspan></text>
<text class="f" font-size="16" transform="translate(166.25 196.70) scale(1.0000 1)" letter-spacing="0.117">keV)</text>
<text class="f" font-size="16" transform="translate(84.08 355.00) scale(0.9000 1)" letter-spacing="-1.065">HALO</text>
<text class="f" font-size="16" transform="translate(129.60 355.00) scale(1.2000 1)" letter-spacing="1.062">(<tspan class="d2">2<tspan dy="-1.1">&#8211;</tspan><tspan dy="1.1">&#8203;</tspan>6</tspan></text>
<text class="f" font-size="16" transform="translate(173.85 355.00) scale(1.0000 1)" letter-spacing="0.317">keV)</text>
<text class="f" font-size="16" transform="translate(94.85 445.70) scale(1.1360 1)" letter-spacing="0.000"><tspan class="i">&#952;</tspan></text>
<text class="f" font-size="16" transform="translate(111.70 445.70) scale(1.0000 1)" letter-spacing="1.495">(<tspan class="d2">30&#8243;<tspan dy="-1.1">&#8211;</tspan><tspan dy="1.1">&#8203;</tspan>360&#8243;</tspan>)</text>
<text class="f" font-size="16" transform="translate(389.57 34.10) scale(0.9000 1)" letter-spacing="0.615">RXTE/ASM</text>
<text class="f" font-size="16" transform="translate(386.57 151.60) scale(0.9000 1)" letter-spacing="-0.676">TIME</text>
<text class="f" font-size="16" transform="translate(429.35 151.60) scale(0.9000 1)" letter-spacing="0.153">(MJD)</text>
<text class="f" font-size="16" transform="translate(383.07 526.50) scale(0.9000 1)" letter-spacing="-0.380">TIME</text>
<text class="f" font-size="16" transform="translate(425.60 526.50) scale(1.0000 1)" letter-spacing="1.340">(ksec)</text>
<text class="f" font-size="16" transform="translate(373.95 196.70) scale(0.9000 1)" letter-spacing="0.569">ITS</text>
<text class="f" font-size="16" transform="translate(403.10 196.70) scale(1.2000 1)" letter-spacing="1.083">(<tspan class="d2">2<tspan dy="-1.1">&#8211;</tspan><tspan dy="1.1">&#8203;</tspan>6</tspan></text>
<text class="f" font-size="16" transform="translate(448.75 196.70) scale(1.0000 1)" letter-spacing="0.117">keV)</text>
<text class="f" font-size="16" transform="translate(366.57 355.00) scale(0.9000 1)" letter-spacing="-1.065">HALO</text>
<text class="f" font-size="16" transform="translate(412.10 355.00) scale(1.2000 1)" letter-spacing="1.062">(<tspan class="d2">2<tspan dy="-1.1">&#8211;</tspan><tspan dy="1.1">&#8203;</tspan>6</tspan></text>
<text class="f" font-size="16" transform="translate(456.35 355.00) scale(1.0000 1)" letter-spacing="0.317">keV)</text>
<text class="f" font-size="16" transform="translate(377.35 445.70) scale(1.1360 1)" letter-spacing="0.000"><tspan class="i">&#952;</tspan></text>
<text class="f" font-size="16" transform="translate(394.20 445.70) scale(1.0000 1)" letter-spacing="1.495">(<tspan class="d2">30&#8243;<tspan dy="-1.1">&#8211;</tspan><tspan dy="1.1">&#8203;</tspan>360&#8243;</tspan>)</text>
<text class="f" font-size="15" transform="translate(114.68 106.90) scale(1.0483 1)" letter-spacing="0.000"><tspan class="i">&#958;</tspan></text>
<text class="d" font-size="14.4" transform="translate(123.67 106.90) scale(1.0800 1)" letter-spacing="0.773">=0.132</text>
<text class="f" font-size="15" transform="translate(397.38 106.80) scale(1.0343 1)" letter-spacing="0.000"><tspan class="i">&#958;</tspan></text>
<text class="d" font-size="14.4" transform="translate(406.25 106.80) scale(1.0800 1)" letter-spacing="0.648">=0.127</text>
<text class="f" font-size="15" transform="translate(114.78 303.90) scale(1.0395 1)" letter-spacing="0.000"><tspan class="i">&#958;</tspan></text>
<text class="d" font-size="14.4" transform="translate(123.70 303.90) scale(1.0800 1)" letter-spacing="0.695">=0.043</text>
<text class="f" font-size="15" transform="translate(397.38 303.80) scale(1.0325 1)" letter-spacing="0.000"><tspan class="i">&#958;</tspan></text>
<text class="d" font-size="14.4" transform="translate(406.23 303.80) scale(1.0800 1)" letter-spacing="0.632">=0.091</text>
<text class="f" font-size="15" transform="translate(115.08 467.00) scale(1.0483 1)" letter-spacing="0.000"><tspan class="i">&#958;</tspan></text>
<text class="d" font-size="14.4" transform="translate(124.07 467.00) scale(1.0800 1)" letter-spacing="0.773">=0.017</text>
<text class="f" font-size="15" transform="translate(397.38 467.00) scale(1.0482 1)" letter-spacing="0.000"><tspan class="i">&#958;</tspan></text>
<text class="d" font-size="14.4" transform="translate(406.37 467.00) scale(1.0800 1)" letter-spacing="0.773">=0.031</text>
<text class="d" font-size="14.4" transform="translate(39.06 137.80) scale(1.0800 1)" letter-spacing="0.329">51650</text>
<text class="d" font-size="14.4" transform="translate(103.43 137.80) scale(1.0800 1)" letter-spacing="0.329">51700</text>
<text class="d" font-size="14.4" transform="translate(167.80 137.80) scale(1.0800 1)" letter-spacing="0.329">51750</text>
<text class="d" font-size="14.4" transform="translate(321.71 137.80) scale(1.0800 1)" letter-spacing="0.329">51650</text>
<text class="d" font-size="14.4" transform="translate(386.06 137.80) scale(1.0800 1)" letter-spacing="0.329">51700</text>
<text class="d" font-size="14.4" transform="translate(450.41 137.80) scale(1.0800 1)" letter-spacing="0.329">51750</text>
<text class="d" font-size="14.4" transform="translate(17.65 50.20) scale(1.0800 1)" letter-spacing="0.065">100</text>
<text class="d" font-size="14.4" transform="translate(25.79 89.70) scale(1.0800 1)" letter-spacing="0.593">50</text>
<text class="d" font-size="14.4" transform="translate(308.19 55.53) scale(1.0800 1)" letter-spacing="0.593">30</text>
<text class="d" font-size="14.4" transform="translate(308.95 104.64) scale(1.0800 1)" letter-spacing="-0.111">10</text>
<text class="d" font-size="14.4" transform="translate(31.35 335.50) scale(1.1385 1)" letter-spacing="0.000">0</text>
<text class="d" font-size="14.4" transform="translate(31.35 298.30) scale(1.1385 1)" letter-spacing="0.000">2</text>
<text class="d" font-size="14.4" transform="translate(31.67 261.10) scale(1.0571 1)" letter-spacing="0.000">4</text>
<text class="d" font-size="14.4" transform="translate(31.35 223.90) scale(1.1385 1)" letter-spacing="0.000">6</text>
<text class="d" font-size="14.4" transform="translate(31.35 186.70) scale(1.1385 1)" letter-spacing="0.000">8</text>
<text class="d" font-size="14.4" transform="translate(313.75 335.50) scale(1.1385 1)" letter-spacing="0.000">0</text>
<text class="d" font-size="14.4" transform="translate(300.29 301.03) scale(1.0800 1)" letter-spacing="0.426">0.5</text>
<text class="d" font-size="14.4" transform="translate(313.06 266.55) scale(1.2333 1)" letter-spacing="0.000">1</text>
<text class="d" font-size="14.4" transform="translate(301.05 232.08) scale(1.0800 1)" letter-spacing="0.074">1.5</text>
<text class="d" font-size="14.4" transform="translate(313.75 197.60) scale(1.1385 1)" letter-spacing="0.000">2</text>
<text class="d" font-size="14.4" transform="translate(31.35 467.28) scale(1.1385 1)" letter-spacing="0.000">2</text>
<text class="d" font-size="14.4" transform="translate(31.67 440.77) scale(1.0571 1)" letter-spacing="0.000">4</text>
<text class="d" font-size="14.4" transform="translate(31.35 414.25) scale(1.1385 1)" letter-spacing="0.000">6</text>
<text class="d" font-size="14.4" transform="translate(31.35 387.74) scale(1.1385 1)" letter-spacing="0.000">8</text>
<text class="d" font-size="14.4" transform="translate(23.25 361.22) scale(1.0800 1)" letter-spacing="-0.111">10</text>
<text class="d" font-size="14.4" transform="translate(313.06 445.77) scale(1.2333 1)" letter-spacing="0.000">1</text>
<text class="d" font-size="14.4" transform="translate(313.75 397.74) scale(1.1385 1)" letter-spacing="0.000">2</text>
<text class="d" font-size="14.4" transform="translate(313.75 349.72) scale(1.1385 1)" letter-spacing="0.000">3</text>
<text class="d" font-size="14.4" transform="translate(31.35 494.00) scale(1.1385 1)" letter-spacing="0.000">0</text>
<text class="d" font-size="14.4" transform="translate(313.75 494.00) scale(1.1385 1)" letter-spacing="0.000">0</text>
<text class="d" font-size="14.4" transform="translate(43.95 507.60) scale(1.1385 1)" letter-spacing="0.000">0</text>
<text class="d" font-size="14.4" transform="translate(99.36 507.60) scale(1.1385 1)" letter-spacing="0.000">2</text>
<text class="d" font-size="14.4" transform="translate(155.09 507.60) scale(1.0571 1)" letter-spacing="0.000">4</text>
<text class="d" font-size="14.4" transform="translate(210.17 507.60) scale(1.1385 1)" letter-spacing="0.000">6</text>
<text class="d" font-size="14.4" transform="translate(326.60 507.60) scale(1.1385 1)" letter-spacing="0.000">0</text>
<text class="d" font-size="14.4" transform="translate(366.46 507.60) scale(1.1385 1)" letter-spacing="0.000">2</text>
<text class="d" font-size="14.4" transform="translate(406.64 507.60) scale(1.0571 1)" letter-spacing="0.000">4</text>
<text class="d" font-size="14.4" transform="translate(446.18 507.60) scale(1.1385 1)" letter-spacing="0.000">6</text>
<text class="d" font-size="14.4" transform="translate(486.04 507.60) scale(1.1385 1)" letter-spacing="0.000">8</text>
<text class="f" font-size="16" transform="translate(11.80 123.50) rotate(-90) scale(1.0000 1)" letter-spacing="1.406">count_rate</text>
<text class="f" font-size="16" transform="translate(11.80 33.51) rotate(-90) scale(1.2190 1)" letter-spacing="0.000">s</text>
<text class="f" font-size="9.8" transform="translate(6.80 24.73) rotate(-90) scale(0.9000 1)" letter-spacing="0.694">&#8722;1</text>
<text class="f" font-size="16" transform="translate(294.80 123.10) rotate(-90) scale(1.0000 1)" letter-spacing="1.361">count_rate</text>
<text class="f" font-size="16" transform="translate(294.80 33.51) rotate(-90) scale(1.2190 1)" letter-spacing="0.000">s</text>
<text class="f" font-size="9.8" transform="translate(289.80 24.73) rotate(-90) scale(0.9000 1)" letter-spacing="0.694">&#8722;1</text>
<text class="f" font-size="16" transform="translate(11.90 298.80) rotate(-90) scale(1.0000 1)" letter-spacing="1.810">counts</text>
<text class="d" font-size="14.4" transform="translate(12.10 235.75) rotate(-90) scale(1.0800 1)" letter-spacing="-0.120">100</text>
<text class="f" font-size="16" transform="translate(295.30 294.90) rotate(-90) scale(1.0000 1)" letter-spacing="1.810">counts</text>
<text class="d" font-size="14.4" transform="translate(295.50 232.35) rotate(-90) scale(1.0800 1)" letter-spacing="-0.213">100</text>
<text class="f" font-size="16" transform="translate(11.90 457.40) rotate(-90) scale(1.0000 1)" letter-spacing="1.370">counts</text>
<text class="d" font-size="14.4" transform="translate(12.10 394.85) rotate(-90) scale(1.0800 1)" letter-spacing="-0.586">1000</text>
<text class="f" font-size="16" transform="translate(295.30 457.40) rotate(-90) scale(1.0000 1)" letter-spacing="1.370">counts</text>
<text class="d" font-size="14.4" transform="translate(295.50 394.85) rotate(-90) scale(1.0800 1)" letter-spacing="-0.586">1000</text>
<path d="M14.60 246.50L-0.30 237.80" stroke="#222" stroke-width="0.95" fill="none"/>
<path d="M298.00 243.10L283.10 234.10" stroke="#222" stroke-width="0.95" fill="none"/>
<path d="M14.60 406.80L-0.30 395.30" stroke="#222" stroke-width="0.95" fill="none"/>
<path d="M298.00 406.80L283.10 395.30" stroke="#222" stroke-width="0.95" fill="none"/>
</g>
</svg>
</body></html>
